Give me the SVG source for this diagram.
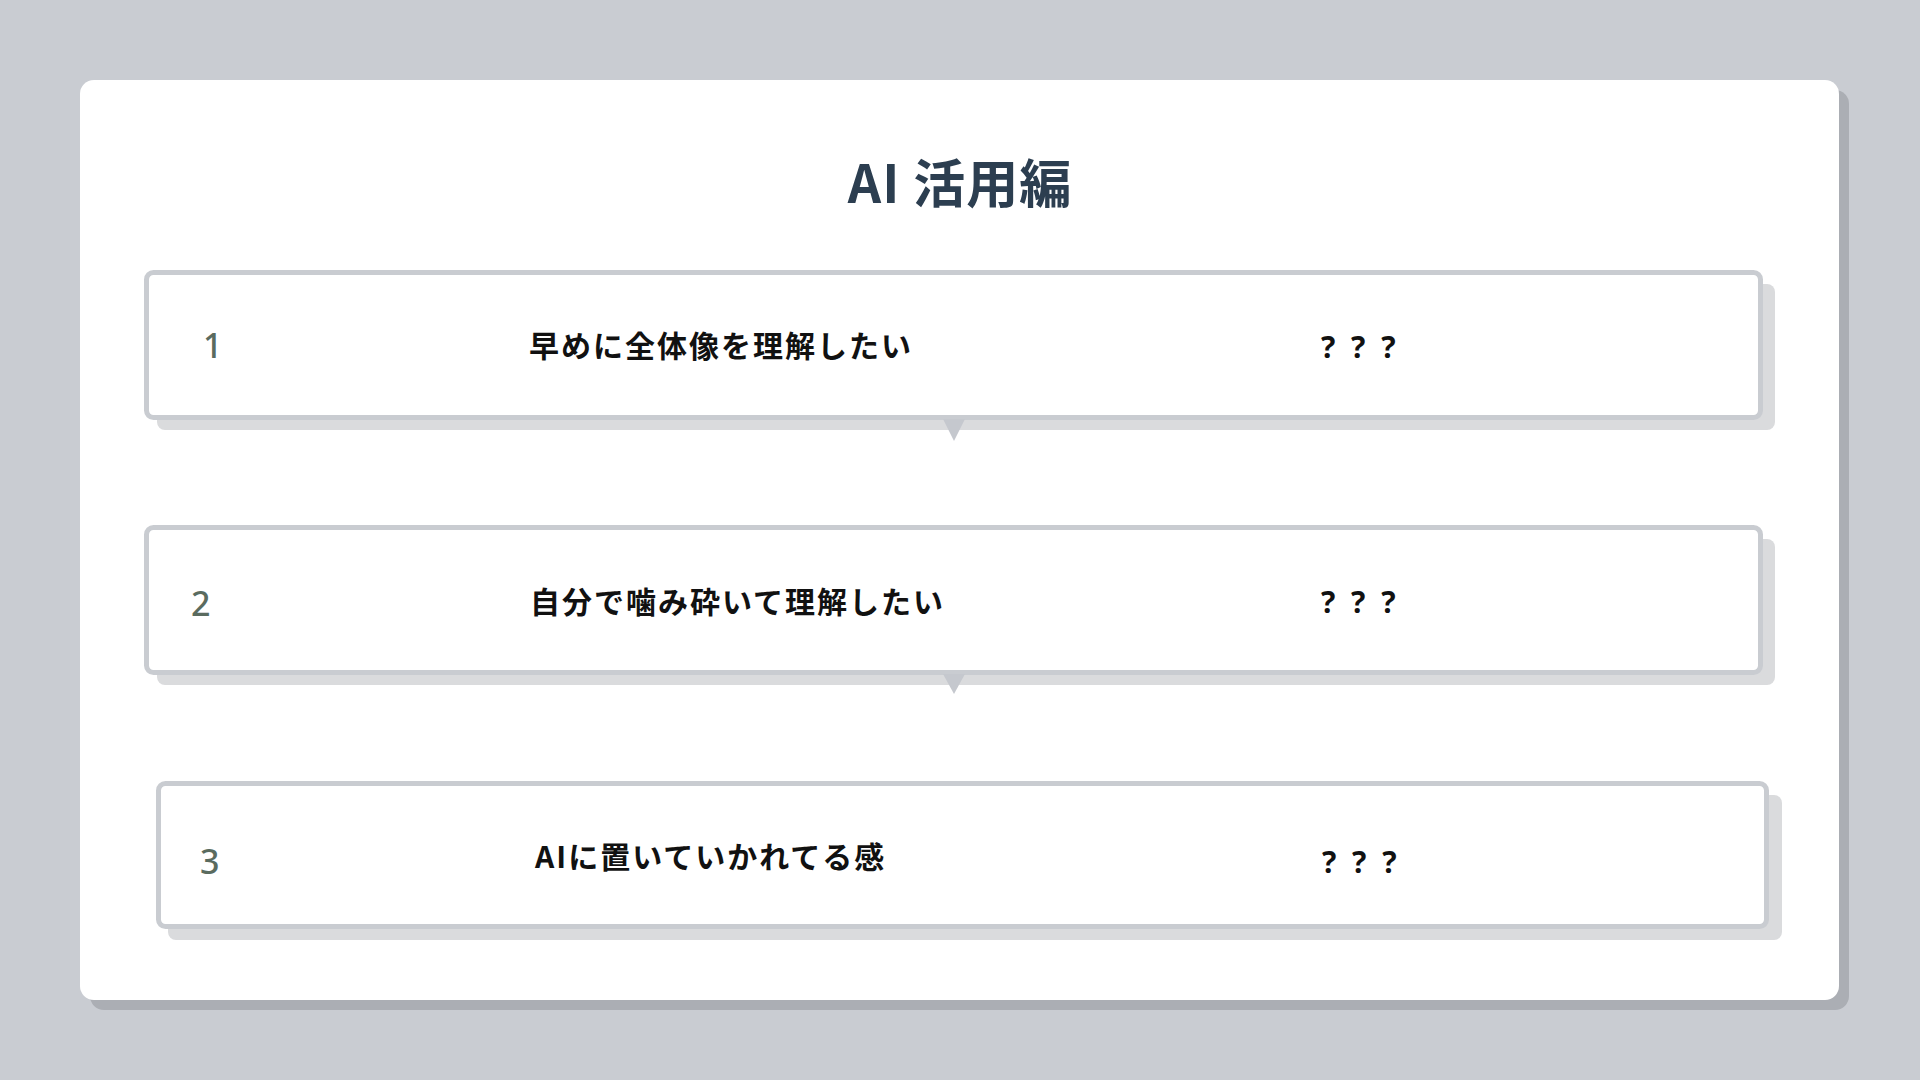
<svg xmlns="http://www.w3.org/2000/svg" width="1920" height="1080" viewBox="0 0 1920 1080">
<style>
.bg{fill:#c9ccd2}
.cardshadow{fill:#abaeb4}
.card{fill:#ffffff}
.boxshadow{fill:#dadbdd}
.box{fill:#ffffff;stroke:#c9ccd1;stroke-width:5}
.title{font-family:"Noto Sans CJK JP","Noto Sans",sans-serif;font-weight:700;font-size:52px;fill:#2c3e50;letter-spacing:1px}
.num{font-family:"Noto Sans","Noto Sans CJK JP",sans-serif;font-weight:500;font-size:34px;fill:#5a6b5f}
.label{font-family:"Noto Sans CJK JP",sans-serif;font-weight:700;font-size:30px;fill:#111111;letter-spacing:2px}
.q{font-family:"Noto Sans","Noto Sans CJK JP",sans-serif;font-weight:700;font-size:30px;fill:#111111;letter-spacing:4px}
.tri{fill:#c5c8ce}
</style>
<rect class="bg" x="0" y="0" width="1920" height="1080"/>
<rect class="cardshadow" x="90" y="90" width="1759" height="920" rx="14"/>
<rect class="card" x="80" y="80" width="1759" height="920" rx="14"/>
<text class="title" x="960" y="203" text-anchor="middle">AI 活用編</text>

<g id="node1">
<rect class="boxshadow" x="157" y="284" width="1618" height="146" rx="8"/>
<rect class="box" x="146.5" y="272.5" width="1614" height="145" rx="7"/>
<text class="num" x="203" y="358">1</text>
<text class="label" x="529" y="357">早めに全体像を理解したい</text>
<text class="q" x="1321" y="358">? ? ?</text>
</g>

<g id="node2">
<rect class="boxshadow" x="157" y="539" width="1618" height="146" rx="8"/>
<rect class="box" x="146.5" y="527.5" width="1614" height="145" rx="7"/>
<text class="num" x="191" y="616">2</text>
<text class="label" x="530" y="613">自分で噛み砕いて理解したい</text>
<text class="q" x="1321" y="613">? ? ?</text>
</g>

<g id="node3">
<rect class="boxshadow" x="168" y="795" width="1614" height="145" rx="8"/>
<rect class="box" x="158.5" y="783.5" width="1608" height="143" rx="7"/>
<text class="num" x="200" y="874">3</text>
<text class="label" x="535" y="868">AIに置いていかれてる感</text>
<text class="q" x="1322" y="873">? ? ?</text>
</g>

<g id="connectors">
<polygon class="tri" points="943,419 965,419 954,441"/>
<polygon class="tri" points="943,674 965,674 954,694"/>
</g>
</svg>
